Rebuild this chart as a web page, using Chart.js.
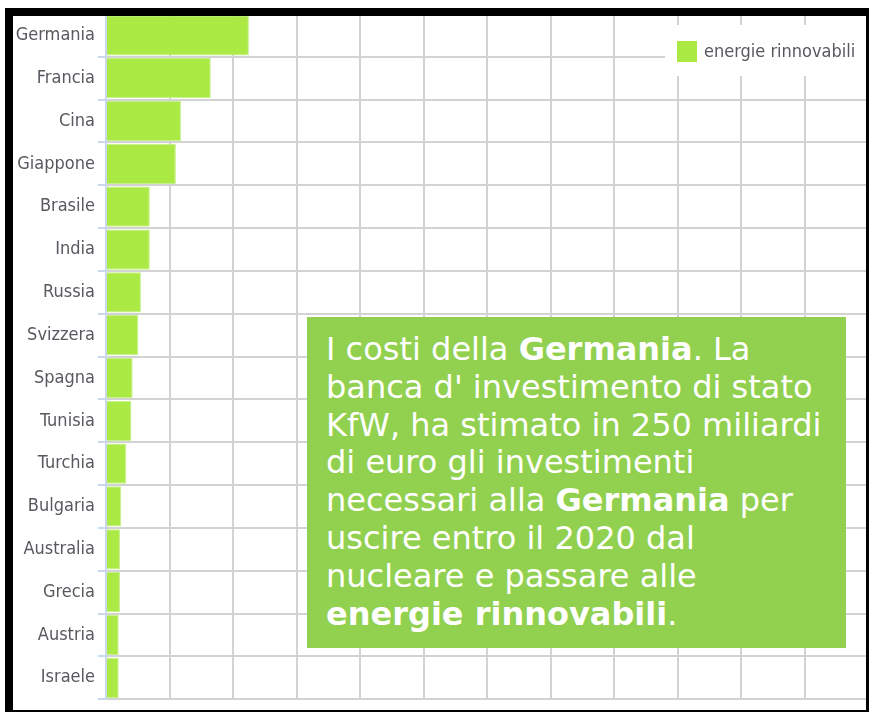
<!DOCTYPE html>
<html>
<head>
<meta charset="utf-8">
<script src="https://cdn.jsdelivr.net/npm/chart.js@4"></script>
<style>
  html, body { margin: 0; padding: 0; background: #fff; }
  #wrap { position: relative; width: 869px; height: 713px; overflow: hidden; }
  #c { position: absolute; left: 0; top: 0; }
  #frame {
    position: absolute; left: 5px; top: 8px; width: 864px; height: 704px;
    box-sizing: border-box; border: solid #000; border-width: 8px 3px 2px 8px;
    pointer-events: none;
  }
  #nota {
    position: absolute; left: 307px; top: 317px; width: 539px; height: 331px;
    box-sizing: border-box; padding: 14px 0 0 19px;
    background: #92d050; color: #fff;
    font-family: "DejaVu Sans", Verdana, sans-serif; font-size: 32px; line-height: 37.8px;
    white-space: nowrap;
  }
  #nota b { font-weight: bold; }
</style>
</head>
<body>
<div id="wrap">
  <canvas id="c" width="869" height="713"></canvas>
  <div id="nota">I costi della <b>Germania</b>. La<br>banca d' investimento di stato<br>KfW, ha stimato in 250 miliardi<br>di euro gli investimenti<br>necessari alla <b>Germania</b> per<br>uscire entro il 2020 dal<br>nucleare e passare alle<br><b>energie rinnovabili</b>.</div>
  <div id="frame"></div>
</div>
<script>
var paesi = ['Germania', 'Francia', 'Cina', 'Giappone', 'Brasile', 'India', 'Russia', 'Svizzera',
             'Spagna', 'Tunisia', 'Turchia', 'Bulgaria', 'Australia', 'Grecia', 'Austria', 'Israele'];
var valori = [22.5, 16.5, 11.8, 11.0, 6.9, 6.9, 5.5, 5.1, 4.2, 4.0, 3.2, 2.4, 2.2, 2.2, 2.0, 2.0];
var serie = 'energie rinnovabili';

var verde = '#abe944';
var fontLabel = { family: "'Liberation Sans Narrow', 'DejaVu Sans Condensed', sans-serif", size: 18 };

// legenda disegnata dentro l'area del grafico, in alto a destra
var legendaInterna = {
    id: 'legendaInterna',
    afterDraw: function (chart) {
        var ctx = chart.ctx;
        var ds = chart.data.datasets[0];
        ctx.save();
        ctx.fillStyle = '#fff';
        ctx.fillRect(665, 25, 204, 51);
        ctx.fillStyle = ds.backgroundColor;
        ctx.fillRect(677, 41, 20, 21);
        ctx.fillStyle = '#58585f';
        ctx.font = fontLabel.size + 'px ' + fontLabel.family;
        ctx.textBaseline = 'middle';
        ctx.fillText(ds.label, 704, 52);
        ctx.restore();
    }
};

new Chart(document.getElementById('c').getContext('2d'), {
    type: 'bar',
    data: {
        labels: paesi,
        datasets: [{
            label: serie,
            data: valori,
            backgroundColor: verde,
            borderColor: '#c6f08c',
            borderWidth: 1,
            barPercentage: 0.94,
            categoryPercentage: 1
        }]
    },
    options: {
        indexAxis: 'y',
        responsive: false,
        animation: false,
        devicePixelRatio: 1,
        layout: { padding: { top: 14, bottom: 5, left: 0, right: 1 } },
        plugins: { legend: { display: false }, tooltip: { enabled: false } },
        scales: {
            x: {
                min: 0,
                max: 120,
                ticks: { display: false, stepSize: 10 },
                grid: { color: '#d3d3d3', lineWidth: 2, drawTicks: false },
                border: { display: false },
                afterFit: function (s) { s.height = 0; }
            },
            y: {
                grid: { offset: true, color: '#d3d3d3', lineWidth: 2, tickLength: 8, tickColor: '#c9d8ec' },
                border: { color: '#c9d8ec', width: 2 },
                ticks: { color: '#58585f', font: fontLabel, padding: 3 },
                afterFit: function (s) { s.width = 106; }
            }
        }
    },
    plugins: [legendaInterna]
});
</script>
</body>
</html>
